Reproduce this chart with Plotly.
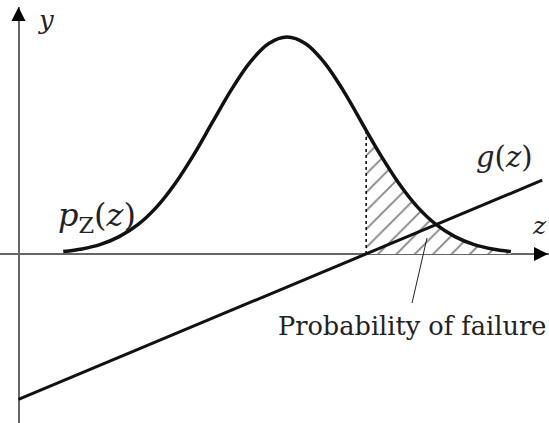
import plotly.graph_objects as go

# Density p_Z(z): sample points along the bell curve (z measured from the y-axis)
pdf_z = [0.6, 0.85, 1.1, 1.35, 1.6, 1.85, 2.1, 2.35, 2.6, 2.85, 3.1, 3.35, 3.6,
         3.85, 4.1, 4.35, 4.66, 4.85, 5.1, 5.35, 5.6, 5.85, 6.1, 6.35, 6.6]
pdf_y = [0.011, 0.023, 0.044, 0.080, 0.135, 0.216, 0.325, 0.458, 0.607, 0.755,
         0.882, 0.969, 1.0, 0.969, 0.882, 0.755, 0.570, 0.458, 0.325, 0.216,
         0.135, 0.080, 0.044, 0.023, 0.011]

# Limit state: g(z) < 0 beyond the threshold z*
threshold_z = 4.66
g_z = [0.0, 7.02]
g_y = [-0.67, 0.34]

# Leader line from the failure region to its label
leader_z = [5.476, 5.275]
leader_y = [0.074, -0.226]

tail_start = pdf_z.index(threshold_z)
tail_z = pdf_z[tail_start:]
tail_y = pdf_y[tail_start:]

SERIF = "DejaVu Serif"

fig = go.Figure()

# Hatched failure region under the tail
fig.add_trace(go.Scatter(
    x=tail_z, y=tail_y, mode="lines", line=dict(width=0, shape="spline"),
    fill="tozeroy", fillcolor="white",
    fillpattern=dict(shape="/", fgcolor="black", bgcolor="white",
                     size=13, solidity=0.13),
    hoverinfo="skip", showlegend=False))

# Dotted boundary at the threshold
fig.add_trace(go.Scatter(
    x=[threshold_z, threshold_z], y=[0, tail_y[0]], mode="lines",
    line=dict(color="black", width=1.5, dash="dot"),
    hoverinfo="skip", showlegend=False))

# Density curve
fig.add_trace(go.Scatter(
    x=pdf_z, y=pdf_y, mode="lines",
    line=dict(color="#111111", width=3.5, shape="spline"),
    hoverinfo="skip", showlegend=False))

# Limit-state line g(z)
fig.add_trace(go.Scatter(
    x=g_z, y=g_y, mode="lines", line=dict(color="#111111", width=3),
    hoverinfo="skip", showlegend=False))

# Leader line
fig.add_trace(go.Scatter(
    x=leader_z, y=leader_y, mode="lines", line=dict(color="#222222", width=1),
    hoverinfo="skip", showlegend=False))


def serif(size):
    return dict(family=SERIF, size=size, color="#222222")


annotations = [
    # axis arrowheads
    dict(x=0, y=1.138, xref="x", yref="y", text="", showarrow=True,
         ax=0, ay=15, arrowhead=2, arrowsize=1.4, arrowwidth=2,
         arrowcolor="black", standoff=0),
    dict(x=557 / 549, y=0, xref="paper", yref="y", text="", showarrow=True,
         ax=-15, ay=0, arrowhead=2, arrowsize=1.4, arrowwidth=2,
         arrowcolor="black", standoff=0),
    # labels
    dict(x=0.37, y=1.078, text="<i>y</i>", showarrow=False, font=serif(26)),
    dict(x=1.0, y=0.13, xref="paper", xanchor="right", text="<i>z</i>",
         showarrow=False, font=serif(25)),
    dict(x=6.52, y=0.447, text="<i>g</i>(<i>z</i>)", showarrow=False,
         font=serif(29)),
    dict(x=1.05, y=0.17, text="<i>p</i><sub>Z</sub>(<i>z</i>)",
         showarrow=False, font=serif(32)),
    dict(x=5.27, y=-0.332, text="Probability of failure", showarrow=False,
         font=serif(25.6)),
]

fig.update_layout(
    width=549, height=423,
    margin=dict(l=0, r=0, t=7, b=0),
    paper_bgcolor="white", plot_bgcolor="white",
    annotations=annotations,
    xaxis=dict(range=[-0.248, 7.111], showgrid=False, showticklabels=False,
               ticks="", zeroline=True, zerolinecolor="#666666",
               zerolinewidth=2, fixedrange=True),
    yaxis=dict(range=[-0.7788, 1.138], showgrid=False, showticklabels=False,
               ticks="", zeroline=True, zerolinecolor="#666666",
               zerolinewidth=2, fixedrange=True),
)

fig.write_html("out.html")
